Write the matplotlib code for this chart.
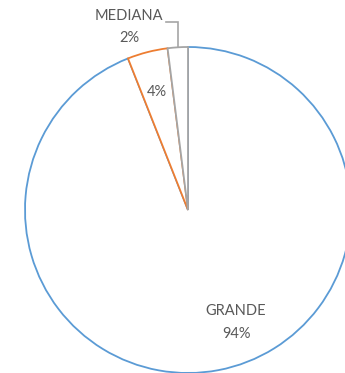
import matplotlib
matplotlib.use("Agg")
import matplotlib.pyplot as plt

# Shares by company size
categories = ["GRANDE", "", "MEDIANA"]
values = [94, 4, 2]
edge_colors = ["#5B9BD5", "#ED7D31", "#A5A5A5"]

W, H, DPI = 345, 373, 100
cx, cy, R = 188, 210, 163  # pie centre and radius in pixels

fig = plt.figure(figsize=(W / DPI, H / DPI), dpi=DPI)
ax = fig.add_axes([0, 0, 1, 1])

wedges, _ = ax.pie(values, startangle=90, counterclock=False, radius=1.0,
                   colors=["white"] * len(values),
                   wedgeprops=dict(linewidth=1.3))
for w, c in zip(wedges, edge_colors):
    w.set_edgecolor(c)

# pixel -> data helpers
def px(x):
    return (x - cx) / R

def py(y):
    return (cy - y) / R

ax.set_xlim(px(0), px(W))
ax.set_ylim(py(H), py(0))
ax.set_aspect("auto")
ax.axis("off")

txt = dict(color="#595959", fontsize=10.5, family=["Lato", "DejaVu Sans"],
           ha="center", va="center")

# value labels
ax.text(px(236), py(322.5), f"{categories[0]}\n{values[0]}%", linespacing=1.8, **txt)
ax.text(px(157), py(92), f"{values[1]}%", **txt)
ax.text(px(129), py(27), f"{categories[2]}\n{values[2]}%", linespacing=1.75, **txt)

# leader line for the small slice
ax.plot([px(166), px(178), px(178)], [py(22), py(22), py(47.5)],
        color="#A5A5A5", linewidth=1.2, solid_joinstyle="miter")

fig.savefig("out.png", dpi=DPI)
